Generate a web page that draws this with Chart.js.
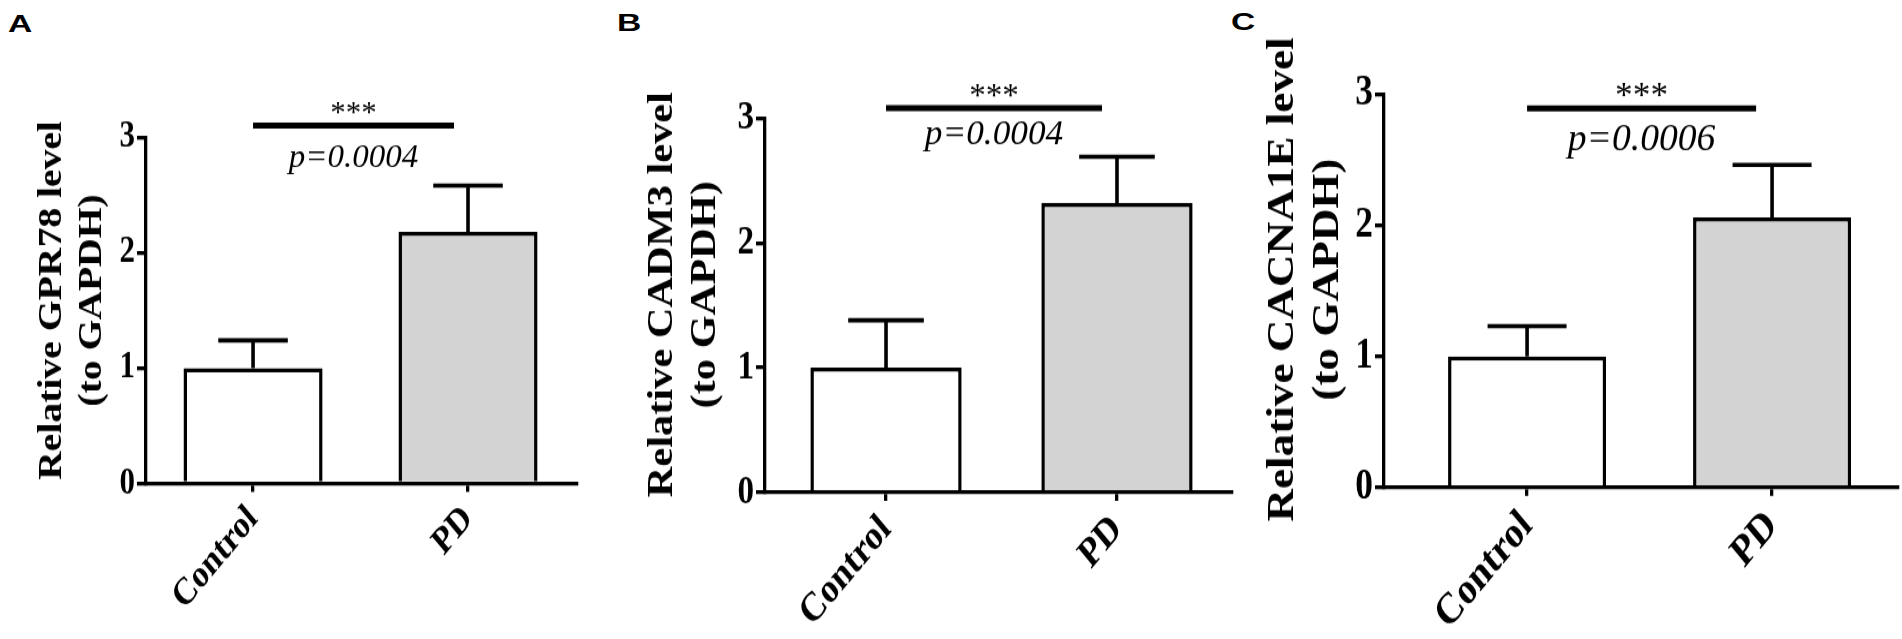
<!DOCTYPE html>
<html lang="en">
<head>
<meta charset="UTF-8">
<title>Relative mRNA levels</title>
<style>
  body { margin: 0; background: #fff; width: 1902px; height: 639px; position: relative; overflow: hidden; }
  canvas { position: absolute; top: 0; height: 639px; }
  .tag { position: absolute; font: bold 24px "Liberation Sans", Arial, sans-serif; line-height: 24px; color: #000;
         transform: scaleX(1.4); transform-origin: left top; }
</style>
</head>
<body>
<div class="tag" style="left:8px;top:12px">A</div>
<div class="tag" style="left:617px;top:11px">B</div>
<div class="tag" style="left:1231px;top:10px">C</div>

<!-- canvases are drawn 532px tall and stretched to 639px, like the original figure -->
<canvas id="chartA" width="600" height="532" style="left:0px;width:600px"></canvas>
<canvas id="chartB" width="670" height="532" style="left:580px;width:670px"></canvas>
<canvas id="chartC" width="702" height="532" style="left:1200px;width:702px"></canvas>

<script src="https://cdn.jsdelivr.net/npm/chart.js@4.4.1/dist/chart.umd.min.js"></script>
<script>
const groups = ['Control', 'PD'];
const yTicks = [0, 1, 2, 3];

const gpr78Mean = [1.0, 2.18];
const gpr78Err = [0.24, 0.40];
const cadm3Mean = [1.0, 2.32];
const cadm3Err = [0.38, 0.37];
const cacna1eMean = [1.0, 2.06];
const cacna1eErr = [0.23, 0.40];

const pLabels = ['p=0.0004', 'p=0.0004', 'p=0.0006'];
const starLabel = '***';
const sigLevels = [3.1, 3.08, 2.89];

const serif = "'Liberation Serif', 'Times New Roman', serif";
const STRETCH = 639 / 532;   // css height / canvas height
const EN = '\u2002';
Chart.defaults.color = '#000';

// draw text without the vertical stretch of the canvas
function flatText(ctx, text, x, y) {
  ctx.save();
  ctx.translate(x, y);
  ctx.scale(STRETCH, 1);
  ctx.fillText(text, 0, 0);
  ctx.restore();
}

// error bars (upper only) + significance bracket
const sigPlugin = {
  id: 'sig',
  afterDatasetsDraw(chart, args, opts) {
    const ctx = chart.ctx;
    const yScale = chart.scales.y;
    const ds = chart.data.datasets[0];
    const bars = chart.getDatasetMeta(0).data;
    const s = opts.scale;
    ctx.save();
    ctx.strokeStyle = '#000';
    ctx.lineWidth = 3.6;
    bars.forEach((bar, i) => {
      const top = yScale.getPixelForValue(ds.data[i].y + ds.errors[i]);
      ctx.beginPath();
      ctx.moveTo(bar.x, bar.y);
      ctx.lineTo(bar.x, top);
      ctx.moveTo(bar.x - bar.width / 4, top);
      ctx.lineTo(bar.x + bar.width / 4, top);
      ctx.stroke();
    });

    const ly = yScale.getPixelForValue(opts.level);
    const x0 = bars[0].x;
    const x1 = bars[1].x - 14 * s;
    ctx.lineWidth = 5;
    ctx.beginPath();
    ctx.moveTo(x0, ly);
    ctx.lineTo(x1, ly);
    ctx.stroke();

    const cx = (x0 + x1) / 2;
    ctx.fillStyle = '#000';
    ctx.textAlign = 'center';
    ctx.textBaseline = 'alphabetic';
    const starSize = 31 * s / STRETCH;
    ctx.font = `${starSize}px ${serif}`;
    flatText(ctx, starLabel, cx, ly - 15 * s + 0.5 * starSize);
    ctx.font = `italic ${33 * s / STRETCH}px ${serif}`;
    flatText(ctx, opts.text, cx, ly + opts.pOffset);
    ctx.restore();
  }
};

function makePanel(id, mean, err, title, idx, L) {
  const s = L.s;
  new Chart(document.getElementById(id), {
    type: 'bar',
    data: {
      datasets: [{
        data: mean.map((v, i) => ({ x: i, y: v })),
        errors: err,
        backgroundColor: ['#ffffff', '#d3d3d3'],
        borderColor: '#000',
        borderWidth: 3.5,
        barPercentage: L.bar,
        categoryPercentage: 1
      }]
    },
    options: {
      responsive: false,
      animation: false,
      devicePixelRatio: 1,
      layout: { padding: { left: 0, right: L.padRight, top: L.top, bottom: 0 } },
      plugins: {
        legend: { display: false },
        tooltip: { enabled: false },
        sig: { level: sigLevels[idx], text: pLabels[idx], scale: s, pOffset: L.pOff }
      },
      scales: {
        x: {
          type: 'linear',
          min: L.xMin,
          max: L.xMax,
          offset: false,
          afterBuildTicks: sc => { sc.ticks = groups.map((g, i) => ({ value: i })); },
          grid: { display: true, drawOnChartArea: false, offset: false, color: '#000', lineWidth: 3.3, tickLength: 7 },
          border: { display: true, color: '#000', width: 3.3 },
          ticks: {
            color: '#000',
            callback: v => groups[v],
            font: { family: serif, size: 32 * s, weight: 'bold' },
            minRotation: 45, maxRotation: 45, autoSkip: false, padding: 4
          },
          afterFit: sc => { sc.height = L.xh; }
        },
        y: {
          min: 0,
          max: 3,
          afterBuildTicks: sc => { sc.ticks = yTicks.map(v => ({ value: v })); },
          grid: { display: true, drawOnChartArea: false, color: '#000', lineWidth: 3.3, tickLength: 9 },
          border: { display: true, color: '#000', width: 3.3 },
          ticks: {
            color: '#000',
            font: { family: serif, size: 31 * s, weight: 'bold' },
            padding: 2
          },
          title: {
            display: true,
            text: title.map(t => EN + t),
            color: '#000',
            font: { family: serif, size: 33 * s, weight: 'bold', lineHeight: 1.21 },
            padding: { top: L.tpad, bottom: 0 }
          },
          afterFit: sc => { sc.width = L.yw; }
        }
      }
    },
    plugins: [sigPlugin]
  });
}

makePanel('chartA', gpr78Mean, gpr78Err, ['Relative GPR78 level', '(to GAPDH)'], 0,
  { s: 1, yw: 146, padRight: 23, top: 114.2, xh: 129.5, tpad: 33, bar: 0.647, xMin: -0.498, xMax: 1.507, pOff: 34 });
makePanel('chartB', cadm3Mean, cadm3Err, ['Relative CADM3 level', '(to GAPDH)'], 1,
  { s: 1.07, yw: 185, padRight: 18, top: 98.3, xh: 122, tpad: 61.6, bar: 0.655, xMin: -0.524, xMax: 1.498, pOff: 30.5 });
makePanel('chartC', cacna1eMean, cacna1eErr, ['Relative CACNA1E level', '(to GAPDH)'], 2,
  { s: 1.14, yw: 184, padRight: 4, top: 78.3, xh: 126.2, tpad: 60.2, bar: 0.645, xMin: -0.584, xMax: 1.514, pOff: 35 });
</script>
</body>
</html>
